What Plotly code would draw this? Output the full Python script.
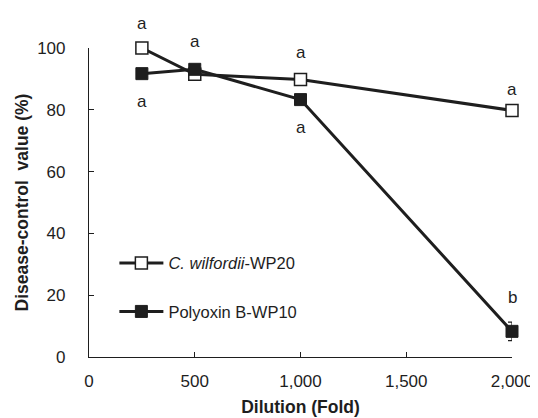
import plotly.graph_objects as go

dilution = [250, 500, 1000, 2000]
cw_values = [100, 91.5, 89.8, 79.8]
cw_err = [0.8, 0.8, 0.8, 1.8]
pb_values = [91.7, 93.1, 83.3, 8.3]
pb_err = [0.8, 0.8, 0.8, 3.0]

labels_text = ["a", "a", "a", "a", "a", "a", "b"]
labels_x = [250, 500, 1000, 2000, 250, 1000, 2000]
labels_y = [108, 102, 98.5, 86.5, 82.8, 74.4, 19.4]

x_ticks = [0, 500, 1000, 1500, 2000]
x_ticklabels = ["0", "500", "1,000", "1,500", "2,000"]
y_ticks = [0, 20, 40, 60, 80, 100]

ink = "#1e1e1e"
fam = "Liberation Sans, Arial, sans-serif"
font = dict(family=fam, size=17, color=ink)

fig = go.Figure()
fig.add_trace(go.Scatter(
    x=dilution, y=cw_values, name="<i>C. wilfordii</i>-WP20",
    legendgroup="cw",
    mode="lines+markers",
    line=dict(color=ink, width=3),
    marker=dict(symbol="square", size=12, color="white", line=dict(color=ink, width=1.5)),
    error_y=dict(type="data", array=cw_err, color=ink, thickness=1.2, width=4),
    cliponaxis=False,
))
fig.add_trace(go.Scatter(
    x=dilution, y=pb_values, name="Polyoxin B-WP10",
    legendgroup="pb",
    mode="lines+markers",
    line=dict(color=ink, width=3),
    marker=dict(symbol="square", size=12, color=ink, line=dict(color=ink, width=1)),
    error_y=dict(type="data", array=pb_err, color=ink, thickness=1.2, width=4),
    cliponaxis=False,
))

y_min, y_max = 0, 100
for t, x, y in zip(labels_text, labels_x, labels_y):
    fig.add_annotation(x=x, xref="x", y=(y - y_min) / (y_max - y_min), yref="paper",
                       xanchor="center", yanchor="middle",
                       text=t, showarrow=False, font=dict(size=17, color=ink, family=fam))

fig.update_layout(
    width=538, height=418,
    margin=dict(l=81, r=34, t=40, b=69, autoexpand=False),
    paper_bgcolor="white", plot_bgcolor="white",
    font=font,
    showlegend=True,
    legend=dict(x=0.06, y=0.36, xanchor="left", yanchor="top",
                bgcolor="rgba(0,0,0,0)", tracegroupgap=24, itemwidth=44,
                font=dict(size=16.5, color=ink, family=fam)),
    xaxis=dict(range=[0, 2000], tickvals=x_ticks, ticktext=x_ticklabels,
               showline=True, linecolor=ink, linewidth=1.2, ticks="inside", ticklen=5,
               tickcolor=ink, showgrid=False, zeroline=False, automargin=False,
               ticklabelstandoff=8, tickfont=dict(size=17),
               title=dict(text="<b>Dilution (Fold)</b>", standoff=11, font=dict(size=17.5))),
    yaxis=dict(range=[y_min, y_max], tickvals=y_ticks,
               showline=True, linecolor=ink, linewidth=1.2, ticks="inside", ticklen=5,
               tickcolor=ink, showgrid=False, zeroline=False, automargin=False,
               ticklabelstandoff=19, tickfont=dict(size=17),
               title=dict(text="<b>Disease-control  value (%)</b>", standoff=4,
                          font=dict(size=17.5))),
)

fig.write_html("out.html")
